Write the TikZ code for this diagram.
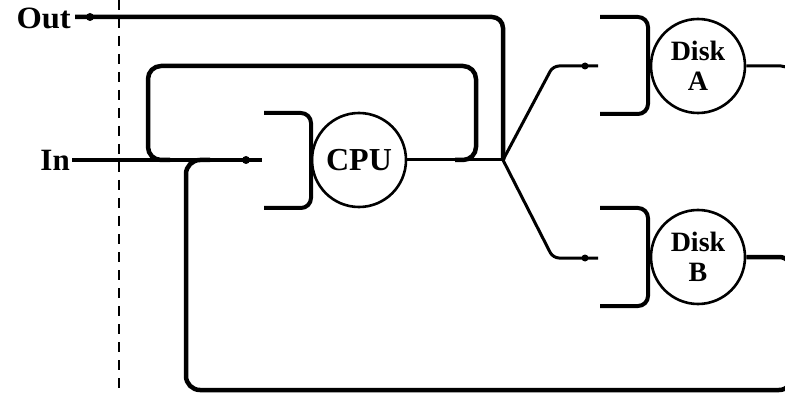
\documentclass[tikz,border=0pt]{standalone}
\usepackage{fontspec}
\setmainfont{Liberation Serif}
\begin{document}
\begin{tikzpicture}[x=1pt,y=-1pt,
  wire/.style={line width=4.5pt},
  thinwire/.style={line width=3pt},
  server/.style={circle,draw,line width=2.6pt,minimum size=94pt,inner sep=0pt,align=center},
  queue/.style={line width=4pt,rounded corners=10pt},
  dot/.style={circle,fill,inner sep=0pt,minimum size=8pt},
  lbl/.style={inner sep=0pt,font=\bfseries\fontsize{31}{31}\selectfont}]
\useasboundingbox (0,0) rectangle (785,393);

% boundary
\coordinate (dtop) at (119,0);
\coordinate (dbot) at (119,393);
\draw[line width=2.5pt,dash pattern=on 10pt off 8pt] (dtop) -- (dbot);

% labels
\node[lbl,anchor=east,xscale=1.05] (outlbl) at (71,18) {Out};
\node[lbl,anchor=east] (inlbl) at (70,160) {In};

% servers
\node[server,font=\bfseries\fontsize{32}{32}\selectfont] (cpu) at (359,160) {CPU};
\node[server,font=\bfseries\fontsize{28}{30}\selectfont] (diska) at (698,66) {Disk\\A};
\node[server,font=\bfseries\fontsize{28}{30}\selectfont] (diskb) at (698,257) {Disk\\B};

% queues
\draw[queue] (264,113) -- (311,113) -- (311,208) -- (264,208);
\draw[queue] (600,17) -- (648,17) -- (648,114) -- (600,114);
\draw[queue] (600,208) -- (648,208) -- (648,306) -- (600,306);

% coordinates
\coordinate (outend) at (75,17);
\coordinate (inend) at (72,160);
\coordinate (cpuin) at (262,160);
\coordinate (fork) at (503,160);
\coordinate (aenter) at (598,66);
\coordinate (benter) at (598,258);
\coordinate (ebend) at (553,66);
\coordinate (fbend) at (553,258);

% out line
\draw[wire,rounded corners=11pt] (fork) |- (outend);
\node[dot] (outdot) at (90,17) {};

% in line
\draw[wire] (inend) -- (cpuin);
\node[dot] (indot) at (246,160) {};

% cpu output
\draw[thinwire] (cpu.east) -- (fork);

% inner feedback loop
\draw[wire,rounded corners=13pt] (455,160) -- (476,160) -- (476,66) -- (148,66) -- (148,160) -- (170,160);

% fork to disks
\draw[thinwire,rounded corners=6pt] (fork) -- (ebend) -- (aenter);
\draw[thinwire,rounded corners=6pt] (fork) -- (fbend) -- (benter);
\node[dot,minimum size=7pt] (adot) at (585,66) {};
\node[dot,minimum size=7pt] (bdot) at (585,258) {};

% disk outputs and return loop
\draw[thinwire,rounded corners=12pt] (diska.east) -- (793,66) -- (793,258);
\draw[wire,rounded corners=14pt] (diskb.east) -- (793,257) -- (793,390) -- (186,390) -- (186,160) -- (210,160);
\end{tikzpicture}
\end{document}
